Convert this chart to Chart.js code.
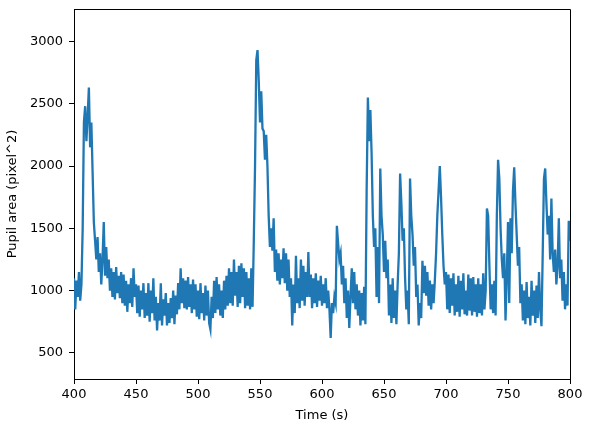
<!DOCTYPE html>
<html>
<head>
<meta charset="utf-8">
<script src="https://cdn.jsdelivr.net/npm/chart.js@4.4.1/dist/chart.umd.min.js"></script>
<style>
  html, body { margin: 0; padding: 0; background: #fff; }
  #wrap { width: 593px; height: 432px; }
</style>
</head>
<body>
<div id="wrap"><canvas id="c" width="593" height="432"></canvas></div>
<script>
// Time axis: one sample per second from 400 s to 800 s
const timeStart = 400;
const timeStep = 1;

// Pupil area (pixel^2), 400..499 s
const area400 = [
  1100, 850, 1080, 950, 1150, 920, 1050, 1500, 2350, 2480,
  2200, 2400, 2630, 2150, 2350, 1950, 1550, 1400, 1250, 1430,
  1150, 1300, 1050, 1250, 1550, 1120, 1350, 1100, 1250, 1000,
  1180, 950, 1150, 930, 1190, 980, 1120, 940, 1150, 900,
  1130, 880, 1080, 830, 1050, 900, 1100, 870, 1180, 950,
  1050, 820, 1040, 790, 1000, 850, 1060, 780, 980, 800,
  1060, 750, 1000, 820, 1100, 760, 950, 680, 900, 760,
  1060, 720, 930, 800, 980, 720, 900, 740, 940, 780,
  1000, 730, 960, 810, 1060, 850, 1180, 900, 1100, 860,
  1080, 850, 1110, 870, 1050, 820, 1090, 850, 1050, 790
];
// 500..599 s
const area500 = [
  1000, 770, 1060, 820, 980, 760, 1040, 800, 1000, 740,
  690, 950, 780, 1080, 820, 1110, 850, 1050, 800, 1000,
  780, 1080, 850, 1120, 880, 1180, 900, 1150, 880, 1250,
  960, 1150, 870, 1200, 900, 1220, 950, 1180, 860, 1150,
  880, 1100, 850, 1180, 870, 1400, 2000, 2850, 2930, 2680,
  2350, 2600, 2300, 2280, 2050, 2250, 2000, 1600, 1350, 1500,
  1320, 1580, 1150, 1330, 1080, 1300, 1050, 1250, 1100, 1340,
  1060, 1300, 1000, 1250, 950, 1100, 720, 1050, 820, 1280,
  900, 1100, 860, 1250, 920, 1200, 880, 1150, 950, 1310,
  950, 1130, 860, 1100, 900, 1140, 870, 1080, 920, 1120
];
// 600..699 s
const area600 = [
  880, 1050, 900, 1100, 860, 1000, 850, 620, 900, 820,
  950, 900, 1520, 1380, 1250, 1300, 1050, 1200, 900, 1100,
  780, 1000, 700, 950, 1180, 900, 1150, 850, 1050, 800,
  1000, 720, 980, 760, 1030, 730, 1800, 2550, 2200, 2450,
  2100, 1600, 1350, 1500, 950, 1350, 900, 1980, 1600, 1450,
  1150, 1400, 1100, 1250, 800, 1050, 740, 1100, 780, 1000,
  730, 1050, 1300, 1940, 1700, 1400, 1500, 1100, 850, 1000,
  730, 1900, 1600, 1450, 1200, 1350, 950, 1050, 720, 900,
  780, 1240, 980, 1200, 960, 1150, 880, 1080, 850, 1050,
  900, 1080, 1300, 1600, 1800, 2000, 1750, 1450, 1200, 1050
];
// 700..800 s
const area700 = [
  1150, 850, 1130, 820, 1100, 880, 1140, 800, 1050, 830,
  1120, 790, 1080, 850, 1140, 810, 1000, 800, 1130, 840,
  1100, 800, 1110, 830, 1050, 790, 1100, 820, 1050, 800,
  1140, 850, 1000, 1660, 1600, 1200, 850, 1050, 820, 1080,
  800, 1600, 2050, 1900, 1500, 1250, 1100, 1300, 760, 1100,
  1550, 900, 1580, 1300, 1800, 1990, 1700, 1450, 1200, 1350,
  900, 1050, 760, 1000, 730, 1070, 780, 950, 720, 1080,
  800, 1000, 740, 1040, 780, 1150, 850, 714, 1300, 1900,
  1980, 1700, 1450, 1600, 1250, 1740, 1300, 1150, 1330, 1050,
  1200, 1580, 1100, 1250, 920, 1150, 850, 1050, 880, 1560,
  1400
];

const xTicks = [400, 450, 500, 550, 600, 650, 700, 750, 800];
const yTicks = [500, 1000, 1500, 2000, 2500, 3000];
const xLabel = 'Time (s)';
const yLabel = 'Pupil area (pixel^2)';

const area = [].concat(area400, area500, area600, area700);
const points = area.map((v, i) => ({ x: timeStart + i * timeStep, y: v }));

const FONT = { family: 'DejaVu Sans', size: 13 };

const framePlugin = {
  id: 'frame',
  afterDraw(chart) {
    const a = chart.chartArea;
    const ctx = chart.ctx;
    ctx.save();
    ctx.strokeStyle = '#000';
    ctx.lineWidth = 1;
    ctx.beginPath();
    ctx.moveTo(Math.round(a.left) + 0.5, Math.round(a.top) + 0.5);
    ctx.lineTo(Math.round(a.right) + 0.5, Math.round(a.top) + 0.5);
    ctx.lineTo(Math.round(a.right) + 0.5, Math.round(a.bottom) + 0.5);
    ctx.stroke();
    ctx.restore();
  }
};

function noPad(s) {
  s.paddingTop = 0; s.paddingBottom = 0; s.paddingLeft = 0; s.paddingRight = 0;
}

new Chart(document.getElementById('c'), {
  type: 'line',
  data: {
    datasets: [{
      data: points,
      borderColor: '#1f77b4',
      borderWidth: 2.3,
      pointRadius: 0,
      tension: 0,
      fill: false
    }]
  },
  options: {
    responsive: false,
    animation: false,
    layout: { padding: { top: 9, right: 23, left: 0, bottom: 0 } },
    plugins: { legend: { display: false }, tooltip: { enabled: false } },
    scales: {
      x: {
        type: 'linear',
        min: 400,
        max: 800,
        afterFit(s) { s.height = 53; noPad(s); },
        afterBuildTicks(s) { s.ticks = xTicks.map(v => ({ value: v })); },
        grid: { drawOnChartArea: false, drawTicks: true, tickLength: 5, tickColor: '#000', tickWidth: 1 },
        border: { display: true, color: '#000', width: 1 },
        ticks: { color: '#000', font: FONT, padding: 3, maxRotation: 0, autoSkip: false,
                 callback: v => String(v) },
        title: { display: true, text: xLabel, color: '#000', font: FONT, padding: { top: 0, bottom: 9 } }
      },
      y: {
        type: 'linear',
        min: 291,
        max: 3260,
        afterFit(s) { s.width = 74; noPad(s); },
        afterBuildTicks(s) { s.ticks = yTicks.map(v => ({ value: v })); },
        grid: { drawOnChartArea: false, drawTicks: true, tickLength: 5, tickColor: '#000', tickWidth: 1 },
        border: { display: true, color: '#000', width: 1 },
        ticks: { color: '#000', font: FONT, padding: 6, autoSkip: false,
                 callback: v => String(v) },
        title: { display: true, text: yLabel, color: '#000', font: FONT, padding: { top: 5, bottom: 0 } }
      }
    }
  },
  plugins: [framePlugin]
});
</script>
</body>
</html>
